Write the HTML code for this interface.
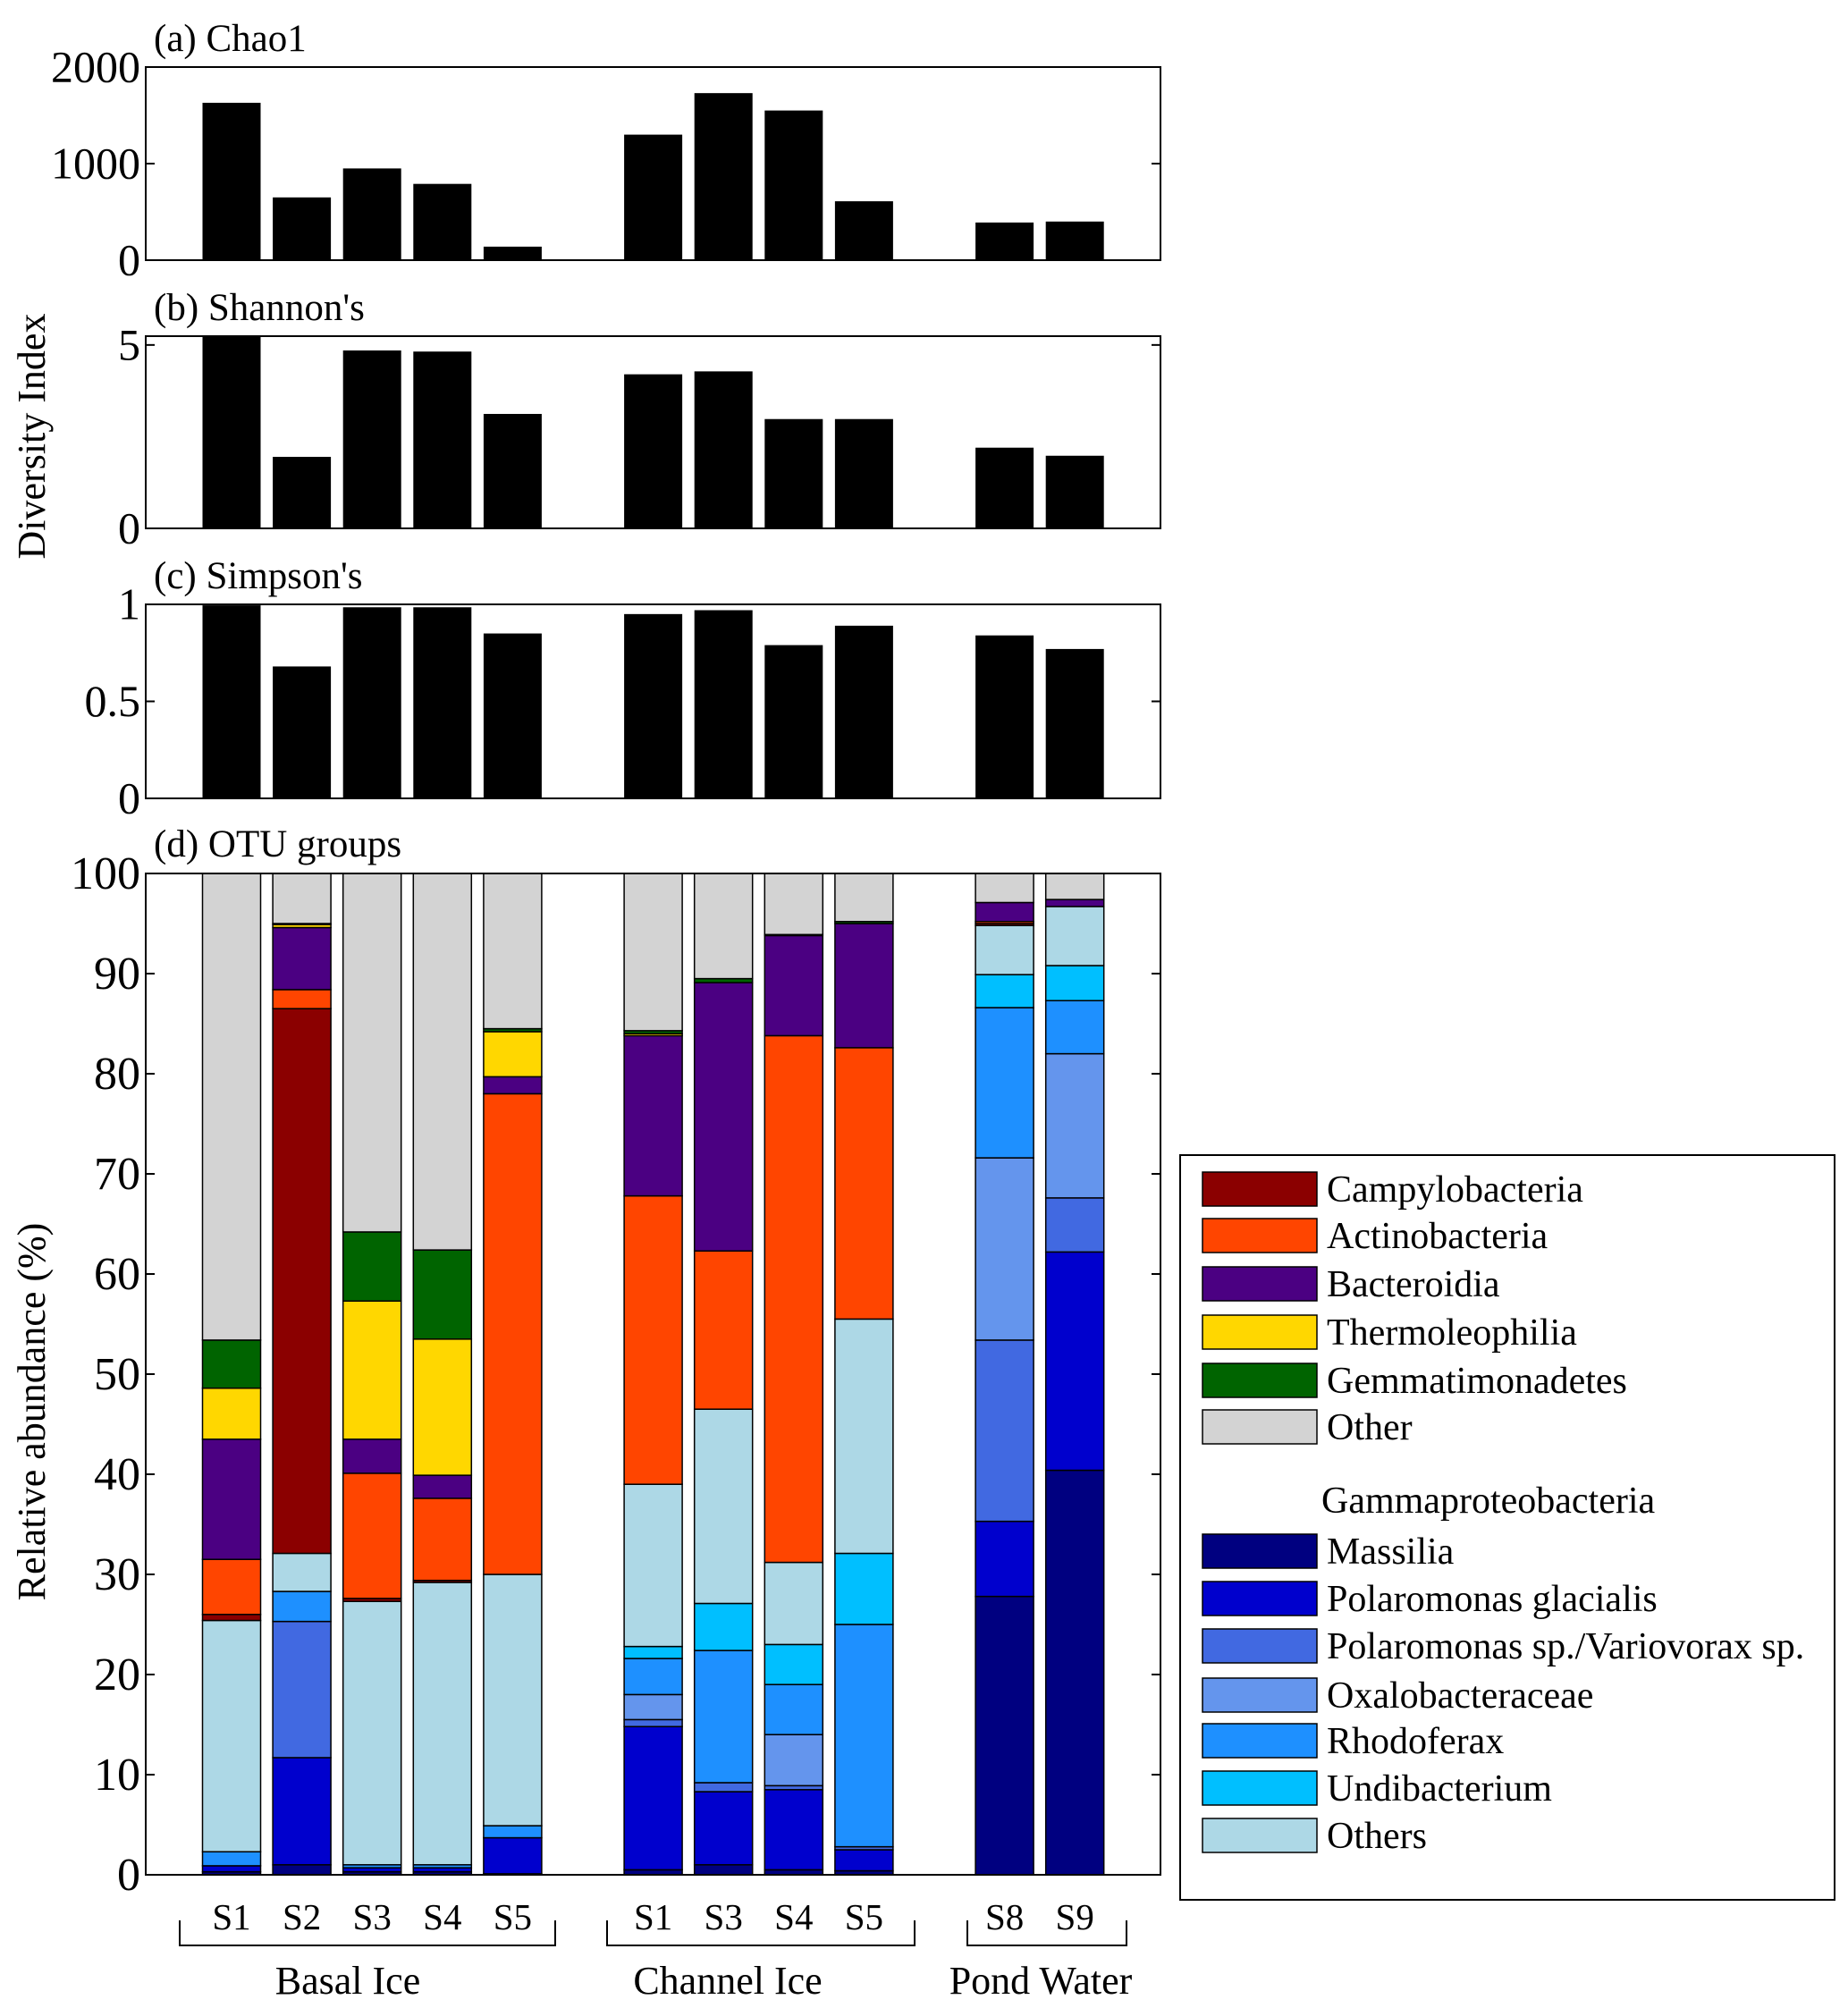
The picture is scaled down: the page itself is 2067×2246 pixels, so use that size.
<!DOCTYPE html>
<html><head><meta charset="utf-8"><style>
html,body{margin:0;padding:0;background:#fff}
svg{display:block;font-family:"Liberation Serif",serif}
</style></head><body>
<svg id="c" width="2067" height="2246" viewBox="0 0 2067 2246"></svg>
<script>
const samples = ["S1","S2","S3","S4","S5","S1","S3","S4","S5","S8","S9"];
const slots = [0,1,2,3,4,6,7,8,9,11,12];
const chao1 = [1630,650,950,790,140,1300,1730,1550,610,390,400];
const shannon = [5.5,1.95,4.85,4.82,3.12,4.2,4.28,2.98,2.98,2.2,1.98];
const simpson = [0.995,0.68,0.985,0.985,0.85,0.95,0.97,0.79,0.89,0.84,0.77];
const groupNames = ["Massilia","Polaromonas glacialis","Polaromonas sp./Variovorax sp.","Oxalobacteraceae","Rhodoferax","Undibacterium","Others","Campylobacteria","Actinobacteria","Bacteroidia","Thermoleophilia","Gemmatimonadetes","Other"];
const groupColors = ["#000080","#0000CD","#4169E1","#6495ED","#1E90FF","#00BFFF","#ADD8E6","#8B0000","#FF4500","#4B0082","#FFD700","#006400","#D3D3D3"];
const massilia = [0.3,1.0,0.3,0.3,0.1,0.5,1.0,0.5,0.4,27.8,40.4];
const polGlacialis = [0.6,10.7,0.4,0.4,3.6,14.3,7.3,8.0,2.1,7.5,21.8];
const polSp = [0,13.6,0,0,0,0.7,0.9,0.4,0.3,18.1,5.4];
const oxalo = [0,0,0,0,0,2.5,0,5.1,0,18.2,14.4];
const rhodoferax = [1.4,3.0,0.3,0.3,1.2,3.6,13.2,5.0,22.2,15.0,5.3];
const undibacterium = [0,0,0,0,0,1.2,4.7,4.0,7.1,3.3,3.5];
const othersGamma = [23.1,3.8,26.3,28.2,25.1,16.2,19.4,8.2,23.4,4.9,5.9];
const campylo = [0.6,54.4,0.3,0.2,0,0,0,0,0,0.2,0];
const actino = [5.5,1.9,12.5,8.2,48.0,28.8,15.8,52.6,27.1,0.2,0];
const bacteroidia = [12.0,6.2,3.4,2.3,1.7,16.0,26.8,10.0,12.4,1.9,0.7];
const thermo = [5.1,0.3,13.8,13.6,4.5,0.2,0,0,0,0,0];
const gemma = [4.8,0.1,6.9,8.9,0.3,0.3,0.4,0.1,0.2,0,0];
const otherGrey = [46.6,5.0,35.8,37.6,15.5,15.7,10.5,6.1,4.8,2.9,2.6];
const series = [massilia,polGlacialis,polSp,oxalo,rhodoferax,undibacterium,othersGamma,campylo,actino,bacteroidia,thermo,gemma,otherGrey];
const chaoTicks = [0,1000,2000];
const shanTicks = [0,5];
const simpTicks = [0,0.5,1];
const otuTicks = [0,10,20,30,40,50,60,70,80,90,100];
const groups = ["Basal Ice","Channel Ice","Pond Water"];

const NS="http://www.w3.org/2000/svg";
const svg=document.getElementById('c');
function mk(t,a,p){const e=document.createElementNS(NS,t);for(const k in a)e.setAttribute(k,a[k]);(p||svg).appendChild(e);return e;}
const X0=163,X1=1298,BW=65;
function xc(i){return 259+slots[i]*78.6;}
function yScale(t0,b0,max){return v=>b0-(v/max)*(b0-t0);}

function panel(name,title,t0,b0,max,vals,ticks,tickFmt,fs){
  const g=mk('g',{});
  
  
  const ys=yScale(t0,b0,max);
  vals.forEach((v,i)=>{
    const yt=Math.max(t0,ys(v));
    const r=mk('rect',{x:xc(i)-BW/2,y:yt,width:BW,height:b0-yt,fill:'#000'},g);
    
    
  });
  mk('rect',{x:X0,y:t0,width:X1-X0,height:b0-t0,fill:'none',stroke:'#000','stroke-width':2},g);
  ticks.forEach(t=>{
    const yy=ys(t);
    mk('line',{x1:X0,x2:X0+10,y1:yy,y2:yy,stroke:'#000','stroke-width':2},g);
    mk('line',{x1:X1-10,x2:X1,y1:yy,y2:yy,stroke:'#000','stroke-width':2},g);
    const tx=mk('text',{x:X0-6,y:yy+fs*0.33,'text-anchor':'end','font-size':fs},g);
    tx.textContent=tickFmt(t);
    
    
  });
  const tt=mk('text',{x:172,y:t0-18,'font-size':43},g);
  tt.textContent=title;
  
  
}
panel('chao1-panel','(a) Chao1',75,291,2000,chao1,chaoTicks,String,50);
panel('shannon-panel',"(b) Shannon's",376,591,5.24,shannon,shanTicks,String,50);
panel('simpson-panel',"(c) Simpson's",676,893,1,simpson,simpTicks,String,50);

const pTop=977,pBot=2097;
const yd=yScale(pTop,pBot,100);
const gd=mk('g',{});


samples.forEach((s,i)=>{
  let cum=0;
  series.forEach((arr,k)=>{
    const v=arr[i]; if(v<=0) return;
    const r=mk('rect',{x:xc(i)-BW/2,y:yd(cum+v),width:BW,height:yd(cum)-yd(cum+v),fill:groupColors[k],stroke:'#000','stroke-width':1.5},gd);
    
    
    cum+=v;
  });
  const t=mk('text',{x:xc(i),y:2158,'text-anchor':'middle','font-size':41},gd);
  t.textContent=s;
  
  
});
mk('rect',{x:X0,y:pTop,width:X1-X0,height:pBot-pTop,fill:'none',stroke:'#000','stroke-width':2},gd);
otuTicks.forEach(t=>{
  const yy=yd(t);
  mk('line',{x1:X0,x2:X0+10,y1:yy,y2:yy,stroke:'#000','stroke-width':2},gd);
  mk('line',{x1:X1-10,x2:X1,y1:yy,y2:yy,stroke:'#000','stroke-width':2},gd);
  const tx=mk('text',{x:X0-6,y:yy+17,'text-anchor':'end','font-size':52},gd);
  tx.textContent=t;
  
  
});
const td=mk('text',{x:172,y:pTop-19,'font-size':43},gd);
td.textContent='(d) OTU groups';



const br=[[201,621],[679,1023],[1082,1260]];
const grpLabelX=[389,814,1164];
br.forEach((b,i)=>{
  mk('path',{d:`M${b[0]} 2148 V2176 H${b[1]} V2148`,fill:'none',stroke:'#000','stroke-width':2});
  const t=mk('text',{x:grpLabelX[i],y:2230,'text-anchor':'middle','font-size':44});
  t.textContent=groups[i];
  
  
});

const a1=mk('text',{x:0,y:0,'text-anchor':'middle','font-size':44,transform:'translate(50,488) rotate(-90)'});
a1.textContent='Diversity Index';


const a2=mk('text',{x:0,y:0,'text-anchor':'middle','font-size':44,transform:'translate(50,1579) rotate(-90)'});
a2.textContent='Relative abundance (%)';



const lg=mk('g',{});


mk('rect',{x:1320,y:1292,width:732,height:833,fill:'#fff',stroke:'#000','stroke-width':2},lg);
const legOrder=[[7,1330],[8,1382],[9,1436],[10,1490],[11,1544],[12,1596],[0,1735],[1,1788],[2,1841],[3,1896],[4,1947],[5,2000],[6,2053]];
legOrder.forEach(([k,yy])=>{
  const e=mk('g',{},lg);
  
  
  mk('rect',{x:1345,y:yy-19,width:128,height:38,fill:groupColors[k],stroke:'#000','stroke-width':1.5},e);
  const t=mk('text',{x:1484,y:yy+14,'font-size':42},e);
  t.textContent=groupNames[k];
});
const gh=mk('text',{x:1478,y:1692,'font-size':42},lg);
gh.textContent='Gammaproteobacteria';


</script>
</body></html>
